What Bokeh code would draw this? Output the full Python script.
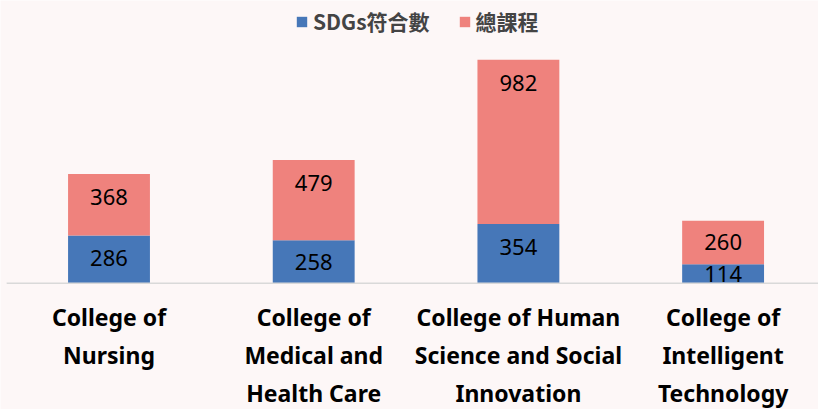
from bokeh.plotting import figure
from bokeh.models import ColumnDataSource, Range1d, Legend
from bokeh.core.properties import value
from bokeh.embed import file_html
from bokeh.resources import INLINE

categories = ["College of\nNursing", "College of\nMedical and\nHealth Care",
              "College of Human\nScience and Social\nInnovation",
              "College of\nIntelligent\nTechnology"]
sdgs = [286, 258, 354, 114]
total = [368, 479, 982, 260]
series = ["SDGs符合數", "總課程"]

BG = "#FDF7F7"
BLUE = "#4677B8"
RED = "#EF827D"

W, H = 818, 409
# layout (pixels) -> data scale
PX_PER_UNIT = 0.1673
BASE_PX = 282.8                     # baseline position from top
Y_END = BASE_PX / PX_PER_UNIT
Y_START = -(H - BASE_PX) / PX_PER_UNIT
BAND_PX = 204.7                     # category band width
FIRST_CENTER_PX = 108.5
X_START = -FIRST_CENTER_PX / BAND_PX
X_END = (W - FIRST_CENTER_PX) / BAND_PX

xs = list(range(len(categories)))
src = ColumnDataSource(dict(x=xs, sdgs=sdgs, total=total))

p = figure(width=W, height=H, output_backend="svg", toolbar_location=None,
           x_range=Range1d(X_START, X_END), y_range=Range1d(Y_START, Y_END),
           x_axis_location=None, y_axis_location=None, min_border=0,
           background_fill_color=BG, border_fill_color=BG, outline_line_color=None)
p.grid.visible = False

r = p.vbar_stack(["sdgs", "total"], x="x", width=0.4, source=src,
                 color=[BLUE, RED], line_color=None)

# baseline across the category bands
p.segment(x0=[xs[0] - 0.5], y0=[0], x1=[xs[-1] + 0.5], y1=[0],
          line_color="#D9D9D9", line_width=1.5)

# value labels
off = 23 / PX_PER_UNIT
lx, ly, lt = [], [], []
for i in xs:
    for bottom, top, v in ((0, sdgs[i], sdgs[i]), (sdgs[i], sdgs[i] + total[i], total[i])):
        lx.append(i)
        ly.append(max(top - off, (top + bottom) / 2))
        lt.append(str(v))
p.text(x=lx, y=ly, text=lt, text_align="center", text_baseline="middle",
       text_font=value("Noto Sans"), text_font_size="22px", text_color="#000000")

# category labels (below the baseline), centred on each line
cx, cy, ct = [], [], []
for i, c in zip(xs, categories):
    for k, line in enumerate(c.split("\n")):
        cx.append(i)
        cy.append(-(33.5 + 38.3 * k) / PX_PER_UNIT)
        ct.append(line)
p.text(x=cx, y=cy, text=ct, text_align="center", text_baseline="middle",
       text_font=value("Noto Sans"), text_font_style="bold",
       text_font_size="23px", text_color="#000000")

legend = Legend(items=[(series[0], [r[0]]), (series[1], [r[1]])],
                location=(295, 373), orientation="horizontal")
legend.background_fill_alpha = 0
legend.border_line_color = None
legend.glyph_width = 13
legend.glyph_height = 13
legend.label_text_font = "Noto Sans CJK TC"
legend.label_text_font_style = "bold"
legend.label_text_font_size = "21px"
legend.label_standoff = 5
legend.spacing = 28
legend.margin = 0
legend.padding = 0
p.add_layout(legend)

open("out.html", "w").write(file_html(p, INLINE))
